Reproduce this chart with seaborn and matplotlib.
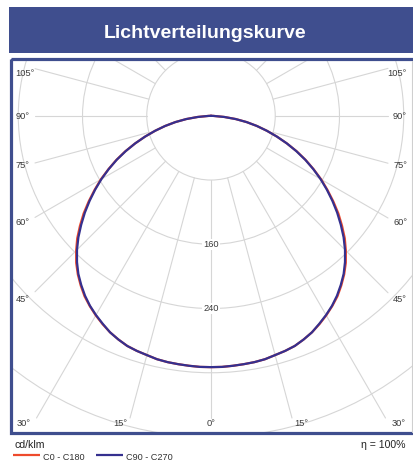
import numpy as np
import pandas as pd
import matplotlib
matplotlib.use("Agg")
import matplotlib.pyplot as plt
import seaborn as sns
from matplotlib.patches import Circle, Rectangle

# ---------------- data ----------------
gamma_deg = [0, 2.5, 5, 7.5, 10, 12.5, 15, 17.5, 20, 22.5, 25, 27.5, 30, 32.5, 35, 37.5,
             40, 42.5, 45, 47.5, 50, 52.5, 55, 57.5, 60, 62.5, 65, 67.5, 70, 72.5, 75,
             77.5, 80, 82.5, 85, 87.5, 90]
i_c0_c180 = [313, 313, 312.5, 312, 311.5, 310.5, 308.5, 307, 305, 301.5, 297.5, 292.5, 287,
             281, 274.5, 266.5, 258, 248.5, 237.5, 226, 213, 200, 186, 172, 158.5, 144,
             130, 115.5, 100.5, 86, 72, 58.5, 45, 31, 16.5, 3, 0]
i_c90_c270 = [313, 313, 312.5, 312, 311.5, 310.5, 308.5, 307, 305, 301.5, 297.5, 292, 286.5,
              280.5, 273.5, 265.5, 257, 247, 236, 224, 211, 198, 184.5, 171, 157.5, 143.5,
              129.5, 115, 100.5, 86, 72, 58.5, 45, 31, 16.5, 3, 0]
series_names = ["C0 - C180", "C90 - C270"]
series_colors = ["#ee4a2c", "#35308f"]
ring_values = [80, 160, 240, 320, 400, 480, 560, 640]
ring_labels = [160, 240]
angle_ticks = [0, 15, 30, 45, 60, 75, 90, 105]
title = "Lichtverteilungskurve"
unit_text = "cd/klm"
eta_text = "η = 100%"

# ---------------- style ----------------
sns.set_theme(style="white")
plt.rcParams["font.family"] = ["Liberation Sans", "DejaVu Sans"]
BLUE = "#3f4e8e"
GRID = "#d6d6d6"
TXT = "#3a3a3a"

W, H = 413, 463
fig = plt.figure(figsize=(W / 100, H / 100), dpi=100)
fig.patch.set_facecolor("white")

# page axes (pixel coordinates) for banner, legend
pg = fig.add_axes([0, 0, 1, 1], zorder=0)
pg.set_xlim(0, W)
pg.set_ylim(H, 0)
pg.axis("off")

pg.add_patch(Rectangle((9, 6.8), W, 46.5, facecolor=BLUE, edgecolor="none"))
pg.text(205, 38.5, title, color="white", fontsize=14, fontweight="bold",
        ha="center", va="baseline")

pg.text(14.5, 448.5, unit_text, fontsize=7.6, color="#222", ha="left", va="baseline")
pg.text(405.5, 448.5, eta_text, fontsize=7.6, color="#222", ha="right", va="baseline")
leg_x = [(13, 40, 43), (96, 123, 126)]
for (x0, x1, xt), name, col in zip(leg_x, series_names, series_colors):
    pg.plot([x0, x1], [455.3, 455.3], color=col, lw=1.6, solid_capstyle="butt")
    pg.text(xt, 459.5, name, fontsize=6.6, color="#333", ha="left", va="baseline")

# ---------------- polar diagram in a cartesian axes ----------------
CX, CY, S = 211.0, 115.8, 0.803   # centre in px and px per cd/klm
BOX_L, BOX_R, BOX_T, BOX_B = 12.5, 411.5, 60.0, 431.5


def px2d(px, py):
    return (px - CX) / S, (CY - py) / S


ax = fig.add_axes([BOX_L / W, 1 - BOX_B / H, (BOX_R - BOX_L) / W, (BOX_B - BOX_T) / H],
                  zorder=1)
ax.patch.set_alpha(0)
xl, yt = px2d(BOX_L, BOX_T)
xr, yb = px2d(BOX_R, BOX_B)
ax.set_xlim(xl, xr)
ax.set_ylim(yb, yt)
ax.set_axis_off()

# rings
for rv in ring_values:
    ax.add_patch(Circle((0, 0), rv, fill=False, edgecolor=GRID, lw=0.8, zorder=1))

# radial lines, clipped to an inner rectangle
rl, rt = px2d(35, BOX_T)
rr, rb = px2d(388, 418)
r0 = ring_values[0]
for g in range(0, 181, 15):
    sides = [1] if g in (0, 180) else [-1, 1]
    for sd in sides:
        dx = sd * np.sin(np.radians(g))
        dy = -np.cos(np.radians(g))
        ts = []
        if dx > 1e-9:
            ts.append(rr / dx)
        if dx < -1e-9:
            ts.append(rl / dx)
        if dy > 1e-9:
            ts.append(rt / dy)
        if dy < -1e-9:
            ts.append(rb / dy)
        t = min(ts)
        if t <= r0:
            continue
        ax.plot([r0 * dx, t * dx], [r0 * dy, t * dy], color=GRID, lw=0.8, zorder=1)

# angle labels
for g in angle_ticks:
    sides = [1] if g == 0 else [-1, 1]
    for sd in sides:
        s, c = np.sin(np.radians(g)), np.cos(np.radians(g))
        lab = f"{g}°"
        if g == 0:
            px, py, ha = CX, 426.5, "center"
        elif c <= 0 or s * (418 - CY) / c > 175:
            # side label
            py = CY + 183 * c / s + 3.3
            py = max(py, 76.5)
            px, ha = (15.5, "left") if sd < 0 else (407, "right")
        else:
            xe = (418 - CY) * s / c
            if xe > 150:
                px, ha = (17, "left") if sd < 0 else (405.5, "right")
            else:
                px, ha = (CX - xe - 2.5, "right") if sd < 0 else (CX + xe + 2.5, "left")
            py = 426.5
        x, y = px2d(px, py)
        ax.text(x, y, lab, fontsize=6.7, color=TXT, ha=ha, va="baseline", zorder=3)

# ring labels
for rv in ring_labels:
    ax.text(0, -rv, str(rv), fontsize=6.7, color=TXT, ha="center", va="center", zorder=3,
            bbox=dict(boxstyle="square,pad=0.1", facecolor="white", edgecolor="none"))

# curves: left half (C180 / C270) from top to bottom, right half (C0 / C90) back up
rows = []
g_arr = np.array(gamma_deg, dtype=float)
for name, vals in zip(series_names, [i_c0_c180, i_c90_c270]):
    v = np.array(vals, dtype=float)
    gl, vl = g_arr[::-1], v[::-1]
    xs = np.concatenate([-vl * np.sin(np.radians(gl)), v[1:] * np.sin(np.radians(g_arr[1:]))])
    ys = np.concatenate([-vl * np.cos(np.radians(gl)), -v[1:] * np.cos(np.radians(g_arr[1:]))])
    for i, (x, y) in enumerate(zip(xs, ys)):
        rows.append({"series": name, "order": i, "x": x, "y": y})
df = pd.DataFrame(rows)
sns.lineplot(data=df, x="x", y="y", hue="series", palette=dict(zip(series_names, series_colors)),
             sort=False, estimator=None, units="series", lw=1.6, legend=False, ax=ax, zorder=4)
ax.set_xlim(xl, xr)
ax.set_ylim(yb, yt)
ax.set_axis_off()

# border overlay
ov = fig.add_axes([0, 0, 1, 1], zorder=2)
ov.patch.set_alpha(0)
ov.set_xlim(0, W)
ov.set_ylim(H, 0)
ov.axis("off")
ov.add_patch(Rectangle((10.8, 58.7), W + 10, 374.4, fill=False, edgecolor=BLUE, lw=2.3))
ov.plot([411.6, 411.6], [60.5, 431.5], color="#cfcfcf", lw=0.8)

fig.savefig("out.png", dpi=100)
